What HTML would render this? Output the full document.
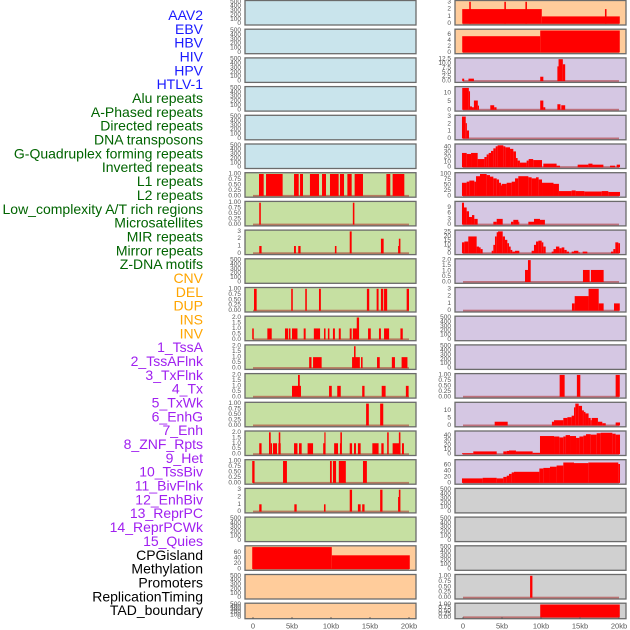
<!DOCTYPE html>
<html><head><meta charset="utf-8"><style>
html,body{margin:0;padding:0;background:#fff;}
svg{display:block;}
</style></head><body>
<svg id="chart" width="630" height="630" viewBox="0 0 630 630" xmlns="http://www.w3.org/2000/svg">
<g id="labels"></g>
<g id="panels"></g>
<g id="xaxes"></g>
</svg>
<script>
const trackLabels = ["AAV2","EBV","HBV","HIV","HPV","HTLV-1","Alu repeats","A-Phased repeats","Directed repeats","DNA transposons","G-Quadruplex forming repeats","Inverted repeats","L1 repeats","L2 repeats","Low_complexity A/T rich regions","Microsatellites","MIR repeats","Mirror repeats","Z-DNA motifs","CNV","DEL","DUP","INS","INV","1_TssA","2_TssAFlnk","3_TxFlnk","4_Tx","5_TxWk","6_EnhG","7_Enh","8_ZNF_Rpts","9_Het","10_TssBiv","11_BivFlnk","12_EnhBiv","13_ReprPC","14_ReprPCWk","15_Quies","CPGisland","Methylation","Promoters","ReplicationTiming","TAD_boundary"];
const labelGroupSizes = [6,13,5,15,5];
const xTickValues = [0,5,10,15,20];
const xTickLabels = ["0","5kb","10kb","15kb","20kb"];

const tEmpty=[0,100,200,300,400,500], t1=[0,0.25,0.5,0.75,1], t2=[0,0.5,1,1.5,2], t3=[0,1,2,3];

// left column data, segments [startKb, endKb, value]
const L6=[[0.77,1.37,1],[1.67,3.8,1],[5.26,5.86,1],[6.03,6.41,1],[7.3,8.46,1],[8.85,9.36,1],[9.87,10.98,1],[11.15,11.67,1],[12.1,12.65,1],[13.03,14.1,1],[17.1,17.6,1],[17.9,19.4,1]];
const L7=[[0.8,1.0,1],[12.8,13.0,1]];
const L8=[[0.8,1.1,1],[5.26,5.5,1],[5.8,6.1,1],[10.5,10.7,1],[12.4,12.65,3],[16.4,16.75,2],[18.6,18.8,1],[18.7,18.9,2]];
const L10=[[0.13,0.47,1],[4.9,5.1,1],[6.7,6.9,1],[8.46,8.7,1],[14.6,14.9,1],[15.85,16.1,1],[16.4,16.7,1],[16.8,17.2,1],[19.7,20,1]];
const L11=[[-0.1,0.1,1],[1.84,2.4,1],[4.1,4.5,1],[4.6,4.8,1],[5.0,5.7,1],[6.5,6.75,1],[7.8,8.6,1],[9.1,9.3,1],[9.6,9.8,1],[10.25,10.5,1],[11.0,11.25,1],[12.4,12.65,1],[12.8,13.4,1],[13.3,13.6,2],[14.75,15.1,1],[16.15,16.4,1],[16.8,17.45,1],[18.9,19.2,1]];
const L12=[[7.2,7.5,1],[7.7,8.8,1],[12.7,13.7,1],[12.95,13.15,2],[13.85,14.05,1],[15.9,16.25,1],[17.8,18.2,1],[19.05,19.8,1]];
const L13=[[5.0,6.15,1],[5.77,6.0,2],[9.75,10.1,1],[10.8,11.25,1],[14.0,14.3,1],[16.5,17.0,1],[19.6,19.95,1]];
const L14=[[14.5,14.85,1],[16.3,16.7,1]];
const L15=[[0.8,1.1,1],[2.05,2.27,2],[2.27,2.44,1],[2.56,3.08,1],[3.25,3.55,1],[3.3,3.5,2],[5.26,5.7,1],[5.9,6.24,1],[7.0,7.7,1],[9.0,9.3,1],[9.15,9.3,2],[10.4,10.9,1],[11.15,11.35,1],[11.2,11.4,2],[12.4,12.7,1],[12.95,13.2,1],[13.45,13.8,1],[15.3,16.1,1],[16.45,16.75,1],[17.2,17.4,2],[17.9,18.9,1],[18.7,18.9,2],[19.1,19.35,1]];
const L16=[[-0.1,0.2,1],[3.85,4.35,1],[9.87,10.1,1],[10.25,10.65,1],[11.0,11.9,1],[14.1,14.6,1]];
const L17=[[0.8,1.1,1],[5.3,5.6,1],[9.1,9.3,1],[12.4,12.7,3],[13.45,13.8,1],[14.0,14.3,1],[16.3,16.6,3],[18.6,18.8,2],[18.7,18.9,3]];
const L19=[[-0.1,10.1,80],[10.1,20.1,50]];

// right column data
const R0=[[-0.1,10.1,2],[10.1,20.1,1],[0.8,1.0,3],[5.3,5.5,3],[8.0,8.2,3],[18.2,18.4,2]];
const R1=[[-0.1,9.9,5.4],[9.9,20.1,7.3]];
const R2=[[-0.1,0.15,1.4],[0.7,1.4,1.4],[9.9,10.3,2.5],[12.1,12.3,8.4],[12.25,12.8,12.5],[12.8,13.1,9.6]];
const R3=[[-0.1,0.75,13],[0.75,0.9,11],[0.9,1.15,2],[1.15,1.4,1.5],[1.4,1.9,5.5],[1.9,2.05,2.5],[3.5,4.0,2.7],[4.0,4.3,1.5],[9.9,10.3,5.5],[10.3,10.55,1.5],[12.1,12.5,3.3],[12.6,13.1,2.7]];
const R4=[[-0.13,0.35,3],[0.35,0.5,2.1],[0.5,0.77,1.1]];
const R5=[[-0.13,0.47,28],[0.47,1.03,26],[1.03,1.88,28],[1.88,2.74,16],[2.74,3.03,20],[3.03,3.29,25],[3.29,3.59,28],[3.59,3.89,32],[3.89,4.19,37],[4.19,4.44,41],[4.44,5.17,43],[5.17,5.43,41],[5.43,6.03,39],[6.03,6.45,36],[6.45,6.79,31],[6.79,7.0,18],[7.0,7.3,13],[7.3,8.16,9],[8.16,8.42,13],[8.42,9.0,16],[9.0,10.13,14],[10.3,12.0,7],[12.0,12.44,3],[14.7,16.07,5],[16.07,16.6,7],[16.6,18.0,5],[18.85,19.5,3],[19.7,20.13,5]];
const R6=[[-0.13,0.47,60],[0.47,0.81,65],[0.81,1.45,70],[1.45,1.67,65],[1.67,2.18,90],[2.18,3.03,100],[3.03,3.46,95],[3.46,3.89,88],[3.89,4.32,80],[4.32,4.62,75],[4.62,4.87,60],[4.87,4.96,48],[4.96,5.6,55],[5.6,6.24,60],[6.24,6.67,65],[6.67,7.09,80],[7.09,8.38,90],[8.38,8.8,85],[8.8,9.36,80],[9.36,9.7,85],[9.7,10.13,75],[10.13,11.6,60],[11.6,12.3,55],[12.3,13.93,22],[13.93,14.44,25],[14.44,15.56,22],[15.56,17.78,20],[17.78,18.63,22],[18.63,20.13,18]];
const R7=[[-0.13,0.13,11.5],[0.13,0.47,9],[0.47,0.77,7],[0.77,1.15,4],[1.15,1.45,5],[1.45,1.88,3],[3.89,4.32,1.5],[4.32,5.09,3],[6.15,6.45,1.5],[6.45,7.09,2.5],[7.09,7.18,1.5],[8.38,9.1,1.5],[9.1,9.87,3],[9.87,10.5,2.5]];
const R8=[[-0.13,0.17,13],[0.17,0.68,14],[0.68,1.75,20],[1.75,2.05,8],[2.05,2.26,7],[2.26,2.52,5],[3.68,3.89,3],[3.89,4.1,10],[4.1,4.32,20],[4.32,4.49,25],[4.49,5.09,26],[5.09,5.38,20],[5.38,5.68,16],[5.68,5.9,12],[5.9,6.11,8],[6.11,6.32,4],[6.32,6.67,2],[6.67,7.22,3],[8.8,9.1,3],[9.1,9.36,10],[9.36,9.66,14],[9.66,10.09,15],[10.09,10.3,13],[10.3,10.6,8],[11.37,11.6,2],[11.6,11.92,5],[11.92,12.35,8],[12.35,12.65,6],[12.65,12.99,7],[12.99,13.29,4],[13.29,13.59,2],[13.93,14.23,2],[14.23,14.79,3],[14.79,15.0,1],[15.34,15.94,2],[18.97,19.27,2],[19.27,19.53,5],[19.53,19.91,13],[19.91,20.13,12]];
const R9=[[7.95,8.33,1.1],[8.33,8.68,2],[15.38,16.24,1.1],[16.4,18.03,1.1]];
const R10=[[13.97,14.32,1],[14.32,16.1,2],[16.1,17.4,3],[17.4,18.03,1],[19.36,20.1,1]];
const R13=[[12.39,13.03,1],[14.6,15.04,1],[19.57,20.1,1]];
const R14=[[4.06,5.73,2.5],[11.4,11.67,2.5],[11.67,12.86,3.5],[12.86,13.38,5],[13.38,13.93,5.5],[13.93,14.23,6.5],[14.23,14.4,12],[14.4,14.83,14.5],[14.83,15.26,13],[15.26,15.5,10],[15.5,15.7,9],[15.7,16.1,8],[16.1,16.37,5],[16.37,16.5,3.5],[16.5,17.3,5],[17.3,17.86,2.5],[17.86,18.3,1.5],[19.57,20.13,2]];
const R15=[[-0.13,1.32,2],[1.32,4.32,6],[5.17,5.6,6],[5.6,5.9,7],[5.9,6.79,8],[6.79,8.93,6],[8.93,9.87,3],[9.87,11.67,39],[11.67,12.35,38],[12.35,12.86,36],[12.86,13.16,38],[13.16,13.72,41],[13.72,14.49,39],[14.49,14.92,35],[14.92,15.43,38],[15.43,15.77,40],[15.77,16.37,43],[16.37,17.14,42],[17.14,17.65,45],[17.65,19.15,46],[19.15,19.57,44],[19.57,20.13,42]];
const R16=[[-0.13,2.52,15],[2.52,4.32,17],[4.32,5.17,15],[5.17,5.6,20],[5.6,5.9,24],[5.9,6.24,30],[6.24,6.54,35],[6.54,9.79,37],[9.79,10.3,48],[10.3,11.15,50],[11.15,12.0,54],[12.0,12.86,58],[12.86,14.23,68],[14.23,16.07,66],[16.07,19.91,68],[19.91,20.13,63]];
const R20=[[8.6,8.9,1]];
const R21=[[9.9,20.1,1]];

const BG={blue:"#c9e4ec",green:"#c6e0a2",orange:"#ffcc9b",purple:"#d5c7e3",gray:"#d0d0d0"};
const panels=[];
function P(col,row,bg,ymax,ticks,segs,dec){panels.push({col,row,bg,ymax,ticks,segs,dec});}
for(let r=0;r<6;r++)P(0,r,"blue",500,tEmpty,null,0);
const leftGreen={6:[L6,1,t1,2],7:[L7,1,t1,2],8:[L8,3,t3,0],10:[L10,1,t1,2],11:[L11,2,t2,1],12:[L12,2,t2,1],13:[L13,2,t2,1],14:[L14,1,t1,2],15:[L15,2,t2,1],16:[L16,1,t1,2],17:[L17,3,t3,0]};
for(let r=6;r<19;r++){const d=leftGreen[r]; if(d)P(0,r,"green",d[1],d[2],d[0],d[3]); else P(0,r,"green",500,tEmpty,null,0);}
P(0,19,"orange",80,[0,20,40,60],L19,0);
P(0,20,"orange",500,tEmpty,null,0);
P(0,21,"orange",500,tEmpty,null,0);
P(1,0,"orange",3,t3,R0,0);
P(1,1,"orange",7.3,[0,2,4,6],R1,0);
P(1,2,"purple",12.5,[0,2.5,5,7.5,10,12.5],R2,1);
P(1,3,"purple",13,[0,5,10],R3,0);
P(1,4,"purple",3,t3,R4,0);
P(1,5,"purple",43,[0,10,20,30,40],R5,0);
P(1,6,"purple",100,[0,25,50,75,100],R6,0);
P(1,7,"purple",11.5,[0,3,6,9],R7,0);
P(1,8,"purple",26,[0,5,10,15,20,25],R8,0);
P(1,9,"purple",2,t2,R9,1);
P(1,10,"purple",3,t3,R10,0);
P(1,11,"purple",500,tEmpty,null,0);
P(1,12,"purple",500,tEmpty,null,0);
P(1,13,"purple",1,t1,R13,2);
P(1,14,"purple",14.5,[0,5,10],R14,0);
P(1,15,"purple",47,[0,10,20,30,40],R15,0);
P(1,16,"purple",73,[0,20,40,60],R16,0);
for(let r=17;r<20;r++)P(1,r,"gray",500,tEmpty,null,0);
P(1,20,"gray",1,t1,R20,2);
P(1,21,"gray",1,t1,R21,2);

const NS="http://www.w3.org/2000/svg";
function mk(tag,attrs,parent){const e=document.createElementNS(NS,tag);for(const k in attrs)e.setAttribute(k,attrs[k]);parent.appendChild(e);return e;}
const colX=[245,455], colW=171, x0=[253,463], pxPerKb=7.8;
function xScale(col,kb){return x0[col]+kb*pxPerKb;}
function rowTop(r){return r*28.7+0.5;}
function rowH(r){return r===21?15.5:24.5;}

// labels
const labelsG=document.getElementById('labels');
const groupColors=["#1a1aff","#006400","#ffa500","#a020f0","#000000"];
let gi=0,cnt=0;
trackLabels.forEach((t,i)=>{
  if(cnt>=labelGroupSizes[gi]){gi++;cnt=0;}
  cnt++;
  const e=mk('text',{x:203,y:15+i*13.84,'text-anchor':'end','dominant-baseline':'central','font-family':'Liberation Sans, sans-serif','font-size':'14',fill:groupColors[gi]},labelsG);
  e.textContent=t;
  
  
});

const panelsG=document.getElementById('panels');
panels.forEach(p=>{
  const g=mk('g',{},panelsG);
  
  
  const top=rowTop(p.row), h=rowH(p.row), left=colX[p.col];
  const bottomY=top+h-1.3, rng=h-2.6;
  const yS=v=>bottomY-Math.min(v,p.ymax)/p.ymax*rng;
  const bg=mk('rect',{x:left,y:top,width:colW,height:h,fill:BG[p.bg]},g);
  
  
  if(p.segs){
    const bl=mk('rect',{x:xScale(p.col,0),y:bottomY-1,width:20*pxPerKb,height:2,fill:"rgba(170,40,40,0.55)"},g);
    
    
    p.segs.forEach(s=>{
      const xa=xScale(p.col,s[0]), xb=xScale(p.col,s[1]), y=yS(s[2]);
      const b=mk('rect',{x:xa,y:y,width:Math.max(xb-xa,1),height:bottomY-y,fill:"#ff0000"},g);
      
      
    });
  }
  const br=mk('rect',{x:left,y:top,width:colW,height:h,fill:"none",stroke:"#6b6b6b","stroke-width":1.3},g);
  
  
  p.ticks.forEach(t=>{
    const e=mk('text',{x:left-4,y:yS(t),'text-anchor':'end','dominant-baseline':'central','font-family':'Liberation Sans, sans-serif','font-size':'6.5',fill:"#555"},g);
    e.textContent=t.toFixed(p.dec);
    
    
  });
});

const xg=document.getElementById('xaxes');
[0,1].forEach(col=>{
  xTickValues.forEach((v,i)=>{
    const x=xScale(col,v);
    const tk=mk('line',{x1:x,x2:x,y1:617,y2:619,stroke:"#555","stroke-width":0.8},xg);
    
    
    const e=mk('text',{x:x,y:626,'text-anchor':'middle','dominant-baseline':'central','font-family':'Liberation Sans, sans-serif','font-size':'7.5',fill:"#555"},xg);
    e.textContent=xTickLabels[i];
    
    
  });
});
</script>
</body></html>
